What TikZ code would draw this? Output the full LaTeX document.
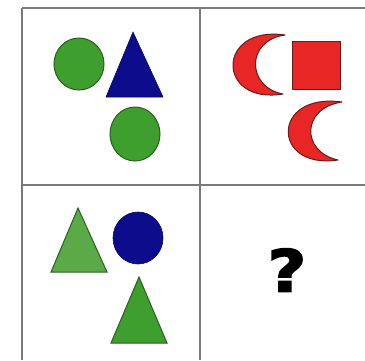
\documentclass[tikz,border=0pt]{standalone}
\usepackage{fontspec}
\setmainfont{DejaVu Sans}
\newfontfamily\heavyfont[FakeBold=2.5]{DejaVu Sans Bold}
\definecolor{gridgray}{HTML}{7A7A7A}
\definecolor{grn}{HTML}{3E9E2E}
\definecolor{grnedge}{HTML}{2A5E1E}
\definecolor{lgrn}{HTML}{5AAA48}
\definecolor{blu}{HTML}{0C0C8C}
\definecolor{rd}{HTML}{E82626}
\definecolor{rdedge}{HTML}{6A1A1A}
\tikzset{
  gridline/.style={draw=gridgray, line width=1.4pt},
  greenshape/.style={fill=grn, draw=grnedge, line width=1pt},
  lightgreen/.style={fill=lgrn, draw=grnedge, line width=1pt},
  blueshape/.style={fill=blu, draw=blu!70!black, line width=0.6pt},
  redshape/.style={fill=rd, draw=rdedge, line width=1pt, line join=round},
}
\begin{document}
\begin{tikzpicture}[x=1pt,y=-1pt]
\useasboundingbox[fill=white] (0,0) rectangle (365,360);
% grid
\draw[gridline] (22,8) -- (365,8);
\draw[gridline] (22,185) -- (365,185);
\draw[gridline] (22,8) -- (22,360);
\draw[gridline] (200,8) -- (200,360);
% top-left cell
\path[greenshape] (79,64) ellipse [x radius=25, y radius=26];
\path[blueshape] (133,32) -- (163,97) -- (106,97) -- cycle;
\path[greenshape] (135,134) ellipse [x radius=25, y radius=27];
% top-right cell
\path[redshape] (285,35) .. controls (216,25) and (216,105) .. (283,94)
  .. controls (246,87) and (246,40) .. (285,35) -- cycle;
\path[redshape] (292,41) rectangle (340,89);
\path[redshape] (342,102) .. controls (271,92) and (271,170) .. (338,160)
  .. controls (301,152) and (301,108) .. (342,102) -- cycle;
% bottom-left cell
\path[lightgreen] (78,208) -- (107,272) -- (51,272) -- cycle;
\path[blueshape] (138,238) ellipse [x radius=25, y radius=26];
\path[greenshape] (139,277) -- (167,343) -- (111,343) -- cycle;
% bottom-right cell
\node[font=\heavyfont\fontsize{58}{60}\selectfont, inner sep=0pt, xscale=1.15] (q) at (287,270) {?};
\end{tikzpicture}
\end{document}
